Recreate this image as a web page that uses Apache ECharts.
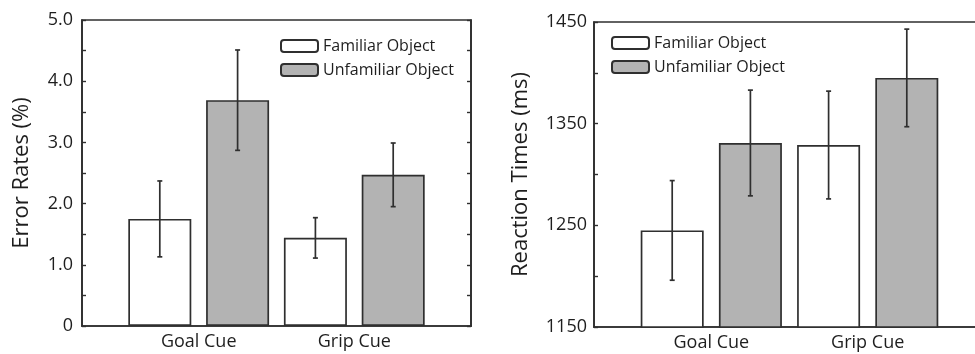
<!DOCTYPE html>
<html><head><meta charset="utf-8">
<script src="https://cdn.jsdelivr.net/npm/echarts@6/dist/echarts.min.js"></script>
<style>html,body{margin:0;padding:0;background:#fff;}#c{width:975px;height:354px;}</style>
</head><body><div id="c"></div>
<script>
// ---- data ----
const categories = ['Goal Cue', 'Grip Cue'];
const seriesNames = ['Familiar Object', 'Unfamiliar Object'];
const errFamiliar = [1.75, 1.44];
const errFamiliarSE = [0.62, 0.33];
const errUnfamiliar = [3.69, 2.47];
const errUnfamiliarSE = [0.82, 0.52];
const rtFamiliar = [1245, 1329];
const rtFamiliarSE = [49, 53];
const rtUnfamiliar = [1331, 1395];
const rtUnfamiliarSE = [52, 48];
const errTickLabels = ['0', '1.0', '2.0', '3.0', '4.0', '5.0'];
const rtTickLabels = ['1150', '1250', '1350', '1450'];

const FONT = 'Open Sans';
const DARK = '#2f2f2f';
const TXT = '#1e1e1e';
const GRAY = '#b3b3b3';

// group slot position on the hidden value x-scale: category i, series s
function slot(i, s) { return 2 * i + 1 + s; }

function barData(vals, s) { return vals.map((v, i) => [slot(i, s), v]); }
function errData(vals, se, s) { return vals.map((v, i) => [slot(i, s), v, se[i]]); }

function errRender(params, api) {
  const x = api.value(0), y = api.value(1), e = api.value(2);
  const t = api.coord([x, y + e]);
  const b = api.coord([x, y - e]);
  const st = { stroke: DARK, lineWidth: 1.7 };
  const cw = 2.5;
  return {
    type: 'group',
    children: [
      { type: 'line', shape: { x1: t[0], y1: t[1], x2: b[0], y2: b[1] }, style: st },
      { type: 'line', shape: { x1: t[0] - cw, y1: t[1], x2: t[0] + cw, y2: t[1] }, style: st },
      { type: 'line', shape: { x1: b[0] - cw, y1: b[1], x2: b[0] + cw, y2: b[1] }, style: st }
    ]
  };
}

function xAxisFor(gi) {
  return {
    type: 'value', gridIndex: gi, min: 0, max: 5, interval: 0.5,
    axisLine: { show: true, lineStyle: { color: DARK, width: 1.7 } },
    axisTick: { show: false }, splitLine: { show: false },
    axisLabel: {
      margin: 7, color: TXT, fontFamily: FONT, fontSize: 18,
      formatter: v => {
        for (let i = 0; i < categories.length; i++) if (Math.abs(v - (2 * i + 1.5)) < 1e-6) return categories[i];
        return '';
      }
    }
  };
}

function yAxisFor(gi, min, max, step, labels, name, gap, position, showLabels, margin) {
  return {
    type: 'value', gridIndex: gi, min: min, max: max, interval: step / 2, position: position,
    name: showLabels ? name : '', nameLocation: 'middle', nameGap: gap, nameRotate: 90,
    nameTextStyle: { fontFamily: FONT, fontSize: 22, color: TXT },
    axisLine: { show: true, lineStyle: { color: DARK, width: 1.7 } },
    axisTick: { show: true, inside: true, length: 4, lineStyle: { color: DARK, width: 1.4 } },
    splitLine: { show: false },
    axisLabel: {
      show: showLabels, margin: margin, color: TXT, fontFamily: FONT, fontSize: 18,
      formatter: v => {
        const k = Math.round((v - min) / step);
        if (Math.abs(v - min - k * step) < 1e-6) return labels[k] || '';
        return '';
      }
    }
  };
}

function barSeries(name, data, xi, yi, fill) {
  return {
    type: 'bar', name: name, xAxisIndex: xi, yAxisIndex: yi, data: data,
    barWidth: 63, barGap: '-100%',
    itemStyle: { color: fill, borderColor: DARK, borderWidth: 1.7 },
    emphasis: { disabled: true }
  };
}
function errSeries(data, xi, yi) {
  return {
    type: 'custom', xAxisIndex: xi, yAxisIndex: yi, data: data, z: 5,
    encode: { x: 0, y: 1 }, renderItem: errRender, silent: true
  };
}

function legendAt(left, top) {
  return {
    data: seriesNames, orient: 'vertical', left: left, top: top, padding: 0,
    itemWidth: 37, itemHeight: 12, itemGap: 8,
    textStyle: { fontFamily: FONT, fontSize: 16, color: TXT },
    selectedMode: false
  };
}

const chart = echarts.init(document.getElementById('c'), null, { renderer: 'canvas' });
chart.setOption({
  animation: false,
  backgroundColor: '#fff',
  grid: [
    { left: 82, top: 20, width: 389, height: 306, show: true, borderColor: DARK, borderWidth: 1.7, outerBoundsMode: 'none', containLabel: false },
    { left: 594, top: 22, width: 391, height: 305, show: true, borderColor: DARK, borderWidth: 1.7, outerBoundsMode: 'none', containLabel: false }
  ],
  legend: [legendAt(280, 38), legendAt(611, 35)],
  xAxis: [xAxisFor(0), xAxisFor(1)],
  yAxis: [
    yAxisFor(0, 0, 5, 1, errTickLabels, 'Error Rates (%)', 49, 'left', true, 9),
    yAxisFor(0, 0, 5, 1, errTickLabels, '', 0, 'right', false, 0),
    yAxisFor(1, 1150, 1450, 100, rtTickLabels, 'Reaction Times (ms)', 62, 'left', true, 7),
    yAxisFor(1, 1150, 1450, 100, rtTickLabels, '', 0, 'right', false, 0)
  ],
  series: [
    barSeries(seriesNames[0], barData(errFamiliar, 0), 0, 0, '#ffffff'),
    barSeries(seriesNames[1], barData(errUnfamiliar, 1), 0, 0, GRAY),
    errSeries(errData(errFamiliar, errFamiliarSE, 0), 0, 0),
    errSeries(errData(errUnfamiliar, errUnfamiliarSE, 1), 0, 0),
    barSeries(seriesNames[0], barData(rtFamiliar, 0), 1, 2, '#ffffff'),
    barSeries(seriesNames[1], barData(rtUnfamiliar, 1), 1, 2, GRAY),
    errSeries(errData(rtFamiliar, rtFamiliarSE, 0), 1, 2),
    errSeries(errData(rtUnfamiliar, rtUnfamiliarSE, 1), 1, 2)
  ]
});
</script></body></html>
